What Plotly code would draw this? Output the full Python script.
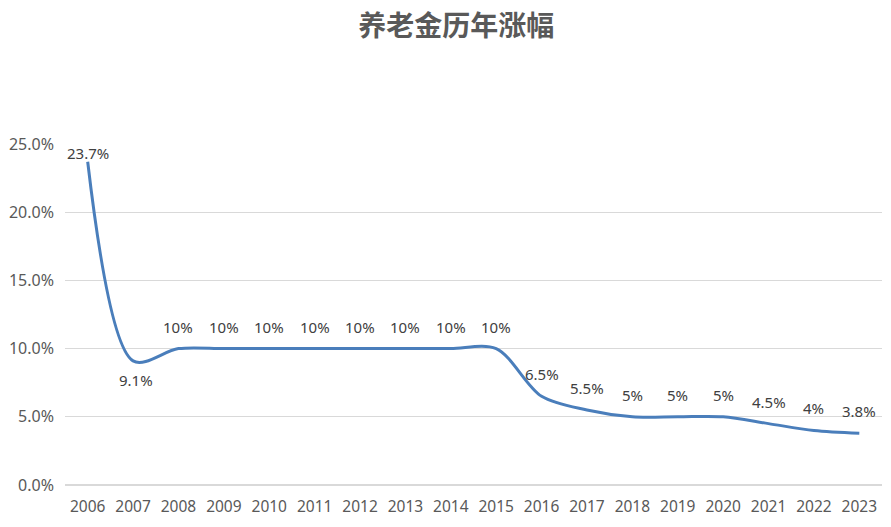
import plotly.graph_objects as go

years = [str(y) for y in range(2006, 2024)]
rates = [0.237, 0.091, 0.10, 0.10, 0.10, 0.10, 0.10, 0.10, 0.10, 0.10,
         0.065, 0.055, 0.05, 0.05, 0.05, 0.045, 0.04, 0.038]
labels = ["23.7%", "9.1%", "10%", "10%", "10%", "10%", "10%", "10%", "10%", "10%",
          "6.5%", "5.5%", "5%", "5%", "5%", "4.5%", "4%", "3.8%"]

fig = go.Figure()
fig.add_trace(go.Scatter(
    x=years, y=rates, mode="lines",
    line=dict(color="#4A7EBB", width=3, shape="spline", smoothing=0.9),
    hoverinfo="skip", showlegend=False,
))

for i, (y, t) in enumerate(zip(rates, labels)):
    if i == 0:
        ys, xs = 9, 0
    elif i == 1:
        ys, xs = -19, 3
    else:
        ys, xs = 22, 0
    # x given as category index so the category axis does not read "2006" as an index
    fig.add_annotation(x=i, y=y, text=t, showarrow=False, yshift=ys, xshift=xs,
                       font=dict(family="Noto Sans, Open Sans, sans-serif", size=15, color="#404040"))

fig.update_layout(
    width=891, height=527,
    paper_bgcolor="white", plot_bgcolor="white",
    margin=dict(l=65, r=9, t=144, b=42),
    title=dict(text="<b>养老金历年涨幅</b>", x=0.512, xanchor="center", y=0.95, yanchor="middle",
               font=dict(family="Noto Sans CJK SC", size=28, color="#595959")),
    font=dict(family="Noto Sans, Open Sans, sans-serif", size=15, color="#595959"),
    xaxis=dict(type="category", range=[-0.5, len(years) - 0.5], showgrid=False, showline=False,
               ticks="", tickfont=dict(size=15.5, color="#595959"), ticklabelstandoff=10),
    yaxis=dict(range=[0, 0.25], dtick=0.05, tickformat=".1%", showgrid=True,
               gridcolor="#D9D9D9", gridwidth=1, zeroline=True, zerolinecolor="#D9D9D9",
               showline=False, ticks="", tickfont=dict(size=16, color="#595959"),
               ticklabelstandoff=10),
)

fig.write_html("out.html")
